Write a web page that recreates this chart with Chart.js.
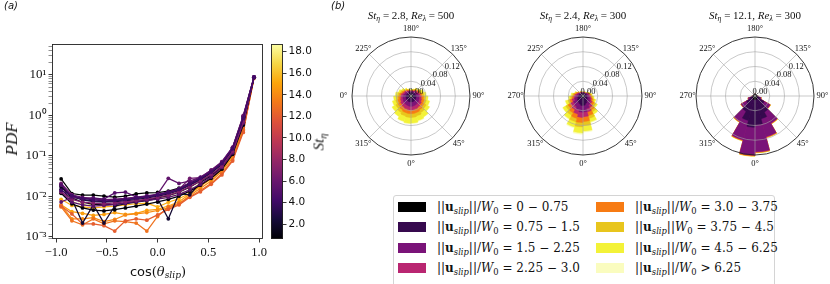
<!DOCTYPE html>
<html><head><meta charset="utf-8">
<script src="https://cdn.jsdelivr.net/npm/chart.js@4.4.1/dist/chart.umd.min.js"></script>
<style>
html,body{margin:0;padding:0;background:#fff;}
body{width:830px;height:284px;position:relative;overflow:hidden;font-family:'DejaVu Sans',sans-serif;color:#111;}
canvas{position:absolute;}
.abs{position:absolute;white-space:nowrap;}
.serif{font-family:'Liberation Serif','DejaVu Serif',serif;}
.dserif{font-family:'DejaVu Serif',serif;}
sub{font-size:0.7em;vertical-align:-0.3em;line-height:0;}
.ctr{transform:translate(-50%,-50%);}
.rot{transform:translate(-50%,-50%) rotate(-90deg);}
</style></head><body>
<canvas id="pdf" width="270" height="284" style="left:0;top:0"></canvas>
<canvas id="cbar" width="60" height="284" style="left:266px;top:0"></canvas>
<canvas id="rose0" width="170" height="150" style="left:326px;top:21px"></canvas>
<canvas id="rose1" width="170" height="150" style="left:498px;top:21px"></canvas>
<canvas id="rose2" width="170" height="150" style="left:670px;top:21px"></canvas>

<div class="abs" style="left:4px;top:0px;font-style:italic;font-size:10px;">(a)</div>
<div class="abs" style="left:331px;top:0px;font-style:italic;font-size:10px;">(b)</div>
<div class="abs serif rot" style="left:12px;top:139px;font-style:italic;font-size:17px;">PDF</div>
<div class="abs ctr" style="left:158px;top:271px;font-size:13px;">cos<span class="dserif">(<i>θ</i><sub><i>slip</i></sub>)</span></div>
<div class="abs serif rot" style="left:319px;top:142px;font-size:15px;"><i>St</i><sub><i>η</i></sub></div>
<div id="titles"></div>
<div id="legend" class="abs" style="left:393px;top:195px;width:380px;height:95px;border:1px solid #d4d4d4;border-radius:3px;"></div>
<div id="legendItems"></div>

<script>
// ---------------- DATA ----------------
// Panel (a): PDF of cos(theta_slip)
const xBins = [-0.95,-0.844,-0.739,-0.633,-0.528,-0.422,-0.317,-0.211,-0.106,0.0,0.106,0.211,0.317,0.422,0.528,0.633,0.739,0.844,0.95];
const stValues = [0.65,0.9,1.3,2.2,2.8,3.5,4.2,5.0,5.6,6.3,7.0,12.1,13.0,14.0,14.8,15.5,5.3,18.2];
const pdfValues = [
 [0.027,0.0118,0.0108,0.0108,0.0102,0.0096,0.0102,0.0115,0.0122,0.0125,0.0135,0.016,0.021,0.029,0.041,0.066,0.16,0.95,8.8],
 [0.012,0.0066,0.0052,0.0046,0.0044,0.0047,0.0052,0.0058,0.0065,0.0073,0.0085,0.0102,0.0135,0.019,0.028,0.047,0.11,0.58,8.6],
 [0.018,0.0092,0.0072,0.0064,0.0062,0.0064,0.0068,0.0074,0.0082,0.0092,0.0105,0.0128,0.017,0.024,0.034,0.055,0.125,0.68,8.7],
 [0.015,0.0085,0.0022,0.0062,0.0022,0.0058,0.0066,0.0072,0.0079,0.0088,0.0028,0.0118,0.011,0.022,0.032,0.054,0.12,0.65,8.6],
 [0.02,0.01,0.0082,0.0074,0.0072,0.0074,0.0078,0.0084,0.0092,0.0101,0.0115,0.014,0.019,0.026,0.038,0.061,0.14,0.75,8.7],
 [0.017,0.0098,0.0085,0.0078,0.0075,0.0078,0.0082,0.0088,0.0096,0.0105,0.012,0.0145,0.0195,0.027,0.039,0.063,0.145,0.8,8.7],
 [0.014,0.0105,0.009,0.0082,0.0078,0.008,0.0085,0.0091,0.0099,0.0108,0.0124,0.015,0.02,0.028,0.04,0.065,0.15,0.85,8.8],
 [0.019,0.0102,0.0088,0.0092,0.0086,0.0122,0.0128,0.0098,0.0096,0.0112,0.013,0.0155,0.022,0.029,0.042,0.068,0.155,0.9,8.8],
 [0.0073,0.0095,0.0092,0.0086,0.0083,0.0086,0.009,0.0096,0.0104,0.0114,0.028,0.021,0.024,0.03,0.044,0.07,0.16,0.95,8.9],
 [0.021,0.011,0.0095,0.009,0.0085,0.0082,0.0088,0.0095,0.0102,0.011,0.0125,0.0148,0.028,0.029,0.045,0.072,0.165,1.0,8.9],
 [0.013,0.0085,0.0072,0.0068,0.0066,0.0069,0.0073,0.0079,0.0086,0.0095,0.0108,0.013,0.0175,0.024,0.035,0.056,0.13,0.7,8.6],
 [0.0058,0.0037,0.0021,0.0021,0.0019,0.0014,0.0025,0.0028,0.0026,0.0035,0.0048,0.0062,0.0095,0.013,0.02,0.034,0.075,0.38,8.5],
 [0.0055,0.0025,0.002,0.0028,0.0021,0.0025,0.0024,0.0022,0.0014,0.0032,0.0055,0.0068,0.0098,0.014,0.021,0.037,0.08,0.42,8.5],
 [0.006,0.0028,0.0028,0.003,0.0024,0.0027,0.0035,0.0037,0.004,0.0045,0.0052,0.0064,0.0105,0.016,0.024,0.042,0.09,0.45,8.5],
 [0.0062,0.0042,0.0038,0.0034,0.0036,0.004,0.0036,0.0038,0.0045,0.0048,0.0058,0.0074,0.0115,0.018,0.027,0.046,0.1,0.5,8.6],
 [0.0085,0.006,0.0055,0.0052,0.0055,0.0058,0.0062,0.0066,0.0068,0.0055,0.0072,0.0088,0.012,0.018,0.029,0.05,0.115,0.58,8.6],
 [0.013,0.0072,0.0062,0.0058,0.006,0.0064,0.0068,0.0074,0.008,0.0086,0.0095,0.0112,0.0145,0.02,0.03,0.052,0.12,0.65,8.7],
 [0.012,0.0075,0.0065,0.0062,0.0063,0.0066,0.007,0.0075,0.008,0.0088,0.0098,0.0115,0.015,0.021,0.031,0.054,0.125,0.7,8.7]
];
const xTickValues = [-1.0,-0.5,0.0,0.5,1.0];
const xTickLabels = ['−1.0','−0.5','0.0','0.5','1.0'];
const yTickValues = [0.001,0.01,0.1,1,10];
const yTickLabels = ['10⁻³','10⁻²','10⁻¹','10⁰','10¹'];
const cbTickValues = [2,4,6,8,10,12,14,16,18];
const cbTickLabels = ['2.0','4.0','6.0','8.0','10.0','12.0','14.0','16.0','18.0'];
const cbMin = 0.64, cbMax = 18.71;

// Panel (b): wind-rose style slip-direction histograms, 24 bins of 15 deg (theta measured from bottom, counter-clockwise)
const dirBinsDeg = [7.5,22.5,37.5,52.5,67.5,82.5,97.5,112.5,127.5,142.5,157.5,172.5,187.5,202.5,217.5,232.5,247.5,262.5,277.5,292.5,307.5,322.5,337.5,352.5];
const roseTitlesSt = ['2.8','2.4','12.1'];
const roseTitlesRe = ['500','300','300'];
// per slip-speed class (0..7), per direction bin
const roseA = [
 [.004,.004,.004,.004,.004,.004,.004,.003,.003,.003,.003,.003,.003,.003,.003,.003,.003,.004,.004,.004,.004,.004,.004,.004],
 [.012,.012,.011,.011,.010,.010,.009,.008,.008,.007,.006,.006,.006,.006,.007,.008,.008,.009,.010,.010,.011,.011,.012,.012],
 [.012,.011,.011,.010,.009,.008,.007,.006,.005,.004,.004,.003,.003,.004,.004,.005,.006,.007,.008,.009,.010,.011,.011,.012],
 [.010,.010,.009,.008,.007,.006,.005,.005,.004,.003,.002,.002,.002,.002,.003,.004,.005,.006,.006,.007,.008,.009,.010,.010],
 [.010,.010,.009,.008,.007,.006,.005,.004,.003,.003,.002,.001,.001,.002,.003,.003,.004,.005,.006,.007,.008,.009,.010,.010],
 [.010,.009,.008,.007,.006,.005,.005,.004,.002,.002,.001,.001,.001,.001,.002,.003,.004,.005,.006,.006,.007,.008,.009,.010],
 [.015,.013,.014,.010,.009,.007,.006,.005,.004,.003,.002,.002,.002,.002,.003,.004,.005,.006,.007,.009,.011,.012,.015,.016],
 [.002,.002,.001,.001,.001,0,0,0,0,0,0,0,0,0,0,0,0,0,0,.001,.001,.001,.002,.002]
];
const roseB = [
 [.004,.004,.003,.003,.003,.003,.003,.003,.003,.003,.003,.003,.003,.003,.003,.003,.003,.003,.003,.003,.004,.004,.004,.004],
 [.021,.017,.014,.011,.009,.008,.007,.006,.005,.004,.004,.004,.004,.004,.005,.006,.007,.008,.010,.012,.014,.016,.019,.022],
 [.018,.014,.011,.009,.007,.006,.005,.004,.003,.002,.002,.002,.002,.002,.002,.003,.004,.006,.007,.009,.012,.013,.016,.018],
 [.013,.010,.008,.006,.005,.004,.003,.002,.002,.001,.001,.001,.001,.001,.002,.002,.003,.004,.005,.007,.009,.010,.012,.014],
 [.013,.010,.008,.006,.004,.003,.003,.002,.001,.001,.001,.001,.001,.001,.001,.002,.003,.004,.005,.006,.008,.010,.012,.014],
 [.011,.008,.006,.005,.004,.003,.002,.002,.001,.001,.001,0,0,.001,.001,.001,.002,.003,.004,.005,.007,.008,.010,.012],
 [.015,.010,.007,.005,.004,.003,.002,.001,.001,.001,0,0,0,0,0,.001,.002,.004,.005,.007,.009,.011,.014,.016],
 [.003,.002,.001,0,0,0,0,0,0,0,0,0,0,0,0,0,0,0,.001,.001,.001,.002,.003,.004]
];
const roseC = [
 [.010,.009,.008,.007,.006,.006,.005,.005,.005,.005,.005,.005,.005,.005,.005,.005,.005,.005,.006,.006,.007,.008,.009,.010],
 [.068,.055,.042,.022,.007,.002,0,0,0,0,0,0,0,0,0,0,0,0,.002,.008,.020,.040,.060,.075],
 [.073,.050,.035,.018,.004,.001,0,0,0,0,0,0,0,0,0,0,0,0,.001,.005,.016,.032,.054,.075],
 [.001,.001,.001,.0005,.0005,0,0,0,0,0,0,0,0,0,0,0,0,0,0,.0005,.0005,.001,.001,.001],
 [.0015,.0015,.001,.0005,.0005,0,0,0,0,0,0,0,0,0,0,0,0,0,0,.0005,.0005,.001,.0015,.0015],
 [.0005,.0005,.0005,.0005,0,0,0,0,0,0,0,0,0,0,0,0,0,0,0,0,.0005,.0005,.0005,.0005],
 [.0005,.0005,.0005,.0005,0,0,0,0,0,0,0,0,0,0,0,0,0,0,0,0,.0005,.0005,.0005,.0005],
 [0,0,0,0,0,0,0,0,0,0,0,0,0,0,0,0,0,0,0,0,0,0,0,0]
];
const classColors = ['#000000','#36094e','#7a1378','#b92671','#f77b13','#e8c51d','#f3f238','#fafcbf'];
const classSep = ['/','/','/','/','/','','/','/'];
const classRange = ['= 0 − 0.75','= 0.75 − 1.5','= 1.5 − 2.25','= 2.25 − 3.0','= 3.0 − 3.75','= 3.75 − 4.5','= 4.5 − 6.25','> 6.25'];
const rRingValues = [0.04,0.08,0.12,0.16];
const rTickValues = [0,0.04,0.08,0.12];
const rTickLabels = ['0.00','0.04','0.08','0.12'];
const angleTickDeg = [0,45,90,135,180,225,270,315];
const angleLabelsA = ['0°','45°','90°','135°','180°','225°','0°','315°'];
const angleLabelsBC = ['0°','45°','90°','135°','180°','225°','270°','315°'];

// ---------------- STYLE HELPERS ----------------
const INFERNO = ['#000004','#160b39','#420a68','#6a176e','#932667','#bc3754','#dd513a','#f37819','#fca50a','#f6d746','#fcffa4'];
function hexRgb(h){return [1,3,5].map(i=>parseInt(h.substr(i,2),16));}
function inferno(t){t=Math.max(0,Math.min(1,t));const s=t*10;const i=Math.min(9,Math.floor(s));const f=s-i;const a=hexRgb(INFERNO[i]),b=hexRgb(INFERNO[i+1]);return 'rgb('+a.map((v,k)=>Math.round(v+(b[k]-v)*f)).join(',')+')';}

// ---------------- PANEL (a) ----------------
const frame = {id:'frame', afterDraw(c){const a=c.chartArea,x=c.ctx;x.save();x.strokeStyle='#222';x.lineWidth=0.9;
  x.strokeRect(Math.round(a.left)+0.5,Math.round(a.top)+0.5,Math.round(a.right-a.left)-1,Math.round(a.bottom-a.top)-1);x.restore();}};

// drawing priority: purple lines on top, then black, then orange/yellow
function drawOrder(st){ if(st>=4 && st<=8) return 0; if(st<4) return 1; return 2; }
const pdfDatasets = stValues.map((st,i)=>{
  const col = inferno((st-cbMin)/(cbMax-cbMin));
  return {data: xBins.map((x,k)=>({x:x,y:pdfValues[i][k]})), borderColor:col, backgroundColor:col,
    pointBackgroundColor:col, pointBorderWidth:0, pointRadius:1.9, borderWidth:1.25, order:drawOrder(st),
    borderDash: st>18 ? [3,2] : []};
});

new Chart(document.getElementById('pdf'), {
  type:'line',
  data:{datasets:pdfDatasets},
  options:{responsive:false, animation:false, events:[],
    layout:{padding:{left:0,right:5,top:44,bottom:0}},
    plugins:{legend:{display:false}, tooltip:{enabled:false}},
    scales:{
      x:{type:'linear', min:-1.04, max:1.04,
        afterBuildTicks(s){s.ticks = xTickValues.map(v=>({value:v}));},
        afterFit(s){s.height=45;},
        ticks:{autoSkip:false, maxRotation:0, padding:3, color:'#111', font:{family:"'Liberation Serif'", size:12.5},
          callback:(v,i)=>xTickLabels[i]},
        grid:{display:true, drawOnChartArea:false, drawTicks:true, tickLength:3.5, tickColor:'#222', tickWidth:0.9},
        border:{display:false}},
      y:{type:'logarithmic', min:0.00089, max:58,
        afterBuildTicks(s){const t=[];for(let e=-4;e<=1;e++){for(let m=1;m<=9;m++){const v=m*Math.pow(10,e);if(v>=s.min&&v<=s.max)t.push({value:v,major:m===1});}}s.ticks=t;},
        afterFit(s){s.width=52;},
        ticks:{autoSkip:false, padding:2, color:'#111', font:{family:"'Liberation Serif'", size:13},
          callback:(v)=>{const i=yTickValues.findIndex(u=>Math.abs(u-v)/u<1e-6);return i>=0?yTickLabels[i]:'';}},
        grid:{display:true, drawOnChartArea:false, drawTicks:true, tickLength:3.5, tickColor:'#222',
          tickWidth:(ctx)=>{const v=ctx.tick&&ctx.tick.value;return yTickValues.some(u=>Math.abs(u-v)/u<1e-6)?0.9:0.5;}},
        border:{display:false}}
    }},
  plugins:[frame]
});

// ---------------- COLORBAR ----------------
new Chart(document.getElementById('cbar'), {
  type:'bar',
  data:{labels:['St'], datasets:[{data:[[cbMin,cbMax]], barPercentage:1, categoryPercentage:1, borderWidth:0,
    backgroundColor:(ctx)=>{const ch=ctx.chart, a=ch.chartArea; if(!a) return '#000';
      const g=ch.ctx.createLinearGradient(0,a.bottom,0,a.top); for(let i=0;i<=20;i++){g.addColorStop(i/20, inferno(i/20));} return g;}}]},
  options:{responsive:false, animation:false, events:[],
    layout:{padding:{left:5,right:0,top:44,bottom:45}},
    plugins:{legend:{display:false}, tooltip:{enabled:false}},
    scales:{
      x:{display:false},
      y:{position:'right', min:cbMin, max:cbMax,
        afterBuildTicks(s){s.ticks=cbTickValues.map(v=>({value:v}));},
        afterFit(s){s.width=43;},
        ticks:{padding:2, color:'#111', font:{family:"'DejaVu Sans'", size:10.5}, callback:(v,i)=>cbTickLabels[i]},
        grid:{display:true, drawOnChartArea:false, tickLength:3.5, tickColor:'#222', tickWidth:0.9},
        border:{display:false}}
    }},
  plugins:[frame]
});

// ---------------- PANEL (b) ROSES ----------------
function roseDecor(angleLabels){ return {id:'roseDecor', afterDatasetsDraw(chart){
  const s=chart.scales.r, ctx=chart.ctx, cx=s.xCenter, cy=s.yCenter;
  const R=s.getDistanceFromCenterForValue(rRingValues[rRingValues.length-1]);
  ctx.save();
  ctx.strokeStyle='rgba(165,165,165,0.75)'; ctx.lineWidth=0.8;
  rRingValues.slice(0,-1).forEach(v=>{const r=s.getDistanceFromCenterForValue(v);ctx.beginPath();ctx.arc(cx,cy,r,0,2*Math.PI);ctx.stroke();});
  angleTickDeg.forEach(d=>{const t=d*Math.PI/180;ctx.beginPath();ctx.moveTo(cx,cy);ctx.lineTo(cx+R*Math.sin(t),cy+R*Math.cos(t));ctx.stroke();});
  ctx.strokeStyle='#222'; ctx.lineWidth=0.9; ctx.beginPath(); ctx.arc(cx,cy,R,0,2*Math.PI); ctx.stroke();
  ctx.fillStyle='#111'; ctx.font="8.5px 'Liberation Serif'"; ctx.textAlign='center'; ctx.textBaseline='middle';
  angleTickDeg.forEach((d,i)=>{const t=d*Math.PI/180,L=R+8.5;ctx.fillText(angleLabels[i],cx+L*Math.sin(t),cy+L*Math.cos(t));});
  const a=35*Math.PI/180;
  rTickValues.forEach((v,i)=>{const r=s.getDistanceFromCenterForValue(v);ctx.fillText(rTickLabels[i],cx+r*Math.cos(a)+5,cy-r*Math.sin(a)-4);});
  ctx.restore();
}};}

function makeRose(id, rose, angleLabels){
  const n=dirBinsDeg.length, idx=[];
  for(let i=0;i<n;i++){const phi=(i+0.5)*360/n;const th=((180-phi)%360+360)%360;idx.push(dirBinsDeg.findIndex(d=>Math.abs(d-th)<1e-6));}
  const datasets = rose.map((cls,k)=>({
    data: idx.map(j=>rose.slice(0,k+1).reduce((sum,arr)=>sum+arr[j],0)),
    backgroundColor:classColors[k], borderColor:classColors[k], borderWidth:0.4, clip:false
  }));
  new Chart(document.getElementById(id), {
    type:'polarArea',
    data:{labels:idx.map(j=>dirBinsDeg[j]+'°'), datasets},
    options:{responsive:false, animation:false, events:[],
      layout:{padding:{left:26,right:26,top:16,bottom:16}},
      plugins:{legend:{display:false}, tooltip:{enabled:false}},
      scales:{r:{min:0,max:0.16,startAngle:0,ticks:{display:false,stepSize:0.04},grid:{display:false},angleLines:{display:false},pointLabels:{display:false}}}},
    plugins:[roseDecor(angleLabels)]
  });
}
makeRose('rose0', roseA, angleLabelsA);
makeRose('rose1', roseB, angleLabelsBC);
makeRose('rose2', roseC, angleLabelsBC);

// titles
const titleX=[411,583,755];
document.getElementById('titles').innerHTML = titleX.map((x,i)=>
  `<div class="abs serif ctr" style="left:${x}px;top:15px;font-size:11px;"><i>St</i><sub><i>η</i></sub> = ${roseTitlesSt[i]}, <i>Re</i><sub><i>λ</i></sub> = ${roseTitlesRe[i]}</div>`).join('');

// legend
const colSw=[398,596], colTx=[437,635], rowY=[207,227,247.5,268];
let lh='';
classColors.forEach((c,k)=>{const col=Math.floor(k/4), row=k%4;
  lh+=`<div class="abs" style="left:${colSw[col]}px;top:${rowY[row]-5}px;width:28px;height:10px;background:${c};"></div>`;
  lh+=`<div class="abs dserif" style="left:${colTx[col]}px;top:${rowY[row]-9}px;height:18px;line-height:18px;font-size:12px;">||<b>u</b><sub><i>slip</i></sub>||${classSep[k]}<i>W</i><sub>0</sub> ${classRange[k]}</div>`;
});
document.getElementById('legendItems').innerHTML=lh;
</script>
</body></html>
